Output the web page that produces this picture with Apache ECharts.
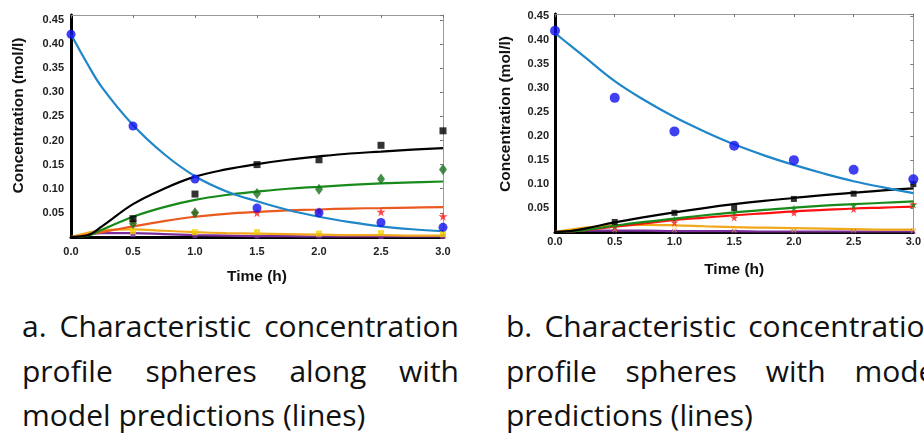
<!DOCTYPE html>
<html>
<head>
<meta charset="utf-8">
<script src="https://cdn.jsdelivr.net/npm/echarts@6/dist/echarts.min.js"></script>
<style>
html,body{margin:0;padding:0;background:#fff;overflow:hidden;width:924px;height:441px;}
#chart{position:absolute;left:0;top:0;width:924px;height:300px;}
.cap{position:absolute;width:437px;font-family:'Open Sans',sans-serif;font-size:30px;line-height:44.5px;color:#111;text-align:justify;white-space:normal;}
</style>
</head>
<body>
<div id="chart"></div>
<div class="cap" id="capA" style="left:22px;top:304px;"></div>
<div class="cap" id="capB" style="left:506px;top:304px;"></div>
<script>
// ---------- data ----------
const captionA = 'a. Characteristic concentration profile spheres along with model predictions (lines)';
const captionB = 'b. Characteristic concentration profile spheres with model predictions (lines)';
const xName = 'Time (h)';
const yName = 'Concentration (mol/l)';

const tPts  = [0, 0.5, 1.0, 1.5, 2.0, 2.5, 3.0];
const tLine = [0, 0.125, 0.25, 0.5, 0.75, 1.0, 1.25, 1.5, 1.75, 2.0, 2.25, 2.5, 2.75, 3.0];

// chart a – measured points
const blueA_pts   = [0.42, 0.23, 0.12, 0.06, 0.05, 0.03, 0.02];
const blackA_pts  = [null, 0.038, 0.089, 0.15, 0.16, 0.19, 0.22];
const greenA_pts  = [null, 0.028, 0.05, 0.09, 0.099, 0.12, 0.14];
const redA_pts    = [null, 0.032, 0.05, 0.05, 0.053, 0.052, 0.043];
const yellowA_pts = [null, 0.012, 0.01, 0.01, 0.007, 0.008, 0.006];
const purpleA_pts = [null, 0.005, 0.003, 0.002, 0.002, 0.001, 0.001];
// chart a – model lines
const blueA_line   = [0.42, 0.362, 0.31, 0.232, 0.172, 0.126, 0.095, 0.074, 0.056, 0.042, 0.031, 0.022, 0.016, 0.012];
const blackA_line  = [0, 0.003, 0.022, 0.068, 0.1, 0.125, 0.14, 0.151, 0.16, 0.167, 0.173, 0.177, 0.181, 0.184];
const greenA_line  = [0, 0.002, 0.015, 0.042, 0.062, 0.077, 0.087, 0.094, 0.1, 0.104, 0.108, 0.111, 0.113, 0.115];
const orangeA_line = [0, 0.004, 0.01, 0.022, 0.033, 0.042, 0.048, 0.052, 0.055, 0.057, 0.059, 0.06, 0.061, 0.062];
const yellowA_line = [0, 0.008, 0.014, 0.016, 0.013, 0.01, 0.008, 0.007, 0.006, 0.005, 0.004, 0.004, 0.003, 0.003];
const purpleA_line = [0, 0.005, 0.008, 0.008, 0.006, 0.004, 0.003, 0.002, 0.002, 0.001, 0.001, 0.001, 0.001, 0.001];

// chart b – measured points
const blueB_pts   = [0.42, 0.28, 0.21, 0.18, 0.15, 0.13, 0.11];
const blackB_pts  = [null, 0.021, 0.04, 0.05, 0.069, 0.08, 0.1];
const greenB_pts  = [null, 0.012, 0.027, 0.04, 0.05, 0.055, 0.057];
const redB_pts    = [null, 0.01, 0.02, 0.03, 0.04, 0.048, 0.058];
const yellowB_pts = [null, 0.005, 0.005, 0.004, 0.004, 0.004, 0.004];
const purpleB_pts = [null, 0.001, 0.001, 0.001, 0.001, 0.001, 0.001];
// chart b – model lines
const blueB_line   = [0.415, 0.39, 0.365, 0.315, 0.275, 0.24, 0.21, 0.183, 0.16, 0.14, 0.122, 0.106, 0.093, 0.081];
const blackB_line  = [0, 0.002, 0.007, 0.02, 0.031, 0.041, 0.05, 0.058, 0.065, 0.071, 0.077, 0.082, 0.087, 0.091];
const greenB_line  = [0, 0.001, 0.004, 0.013, 0.021, 0.028, 0.035, 0.041, 0.046, 0.051, 0.055, 0.058, 0.061, 0.064];
const redB_line    = [0, 0.001, 0.004, 0.011, 0.018, 0.025, 0.03, 0.035, 0.039, 0.043, 0.046, 0.049, 0.051, 0.053];
const orangeB_line = [0, 0.005, 0.009, 0.014, 0.015, 0.014, 0.012, 0.01, 0.009, 0.008, 0.007, 0.006, 0.005, 0.005];
const purpleB_line = [0, 0.002, 0.003, 0.003, 0.003, 0.002, 0.002, 0.002, 0.001, 0.001, 0.001, 0.001, 0.001, 0.001];

// ---------- build ----------
document.getElementById('capA').textContent = captionA;
document.getElementById('capB').textContent = captionB;

const STAR = 'path://M50,0 L61,35 L98,35 L68,57 L79,91 L50,70 L21,91 L32,57 L2,35 L39,35 Z';
const CROSS = 'path://M0,10 L10,0 L50,40 L90,0 L100,10 L60,50 L100,90 L90,100 L50,60 L10,100 L0,90 L40,50 Z';

function pairs(xs, ys) { return xs.map((x, i) => [x, ys[i]]).filter(p => p[1] !== null); }
function lineS(idx, ys, color, w) {
  return { type: 'line', xAxisIndex: idx * 2, yAxisIndex: idx * 2, data: pairs(tLine, ys),
    smooth: 0.4, showSymbol: false, symbol: 'none', clip: false, silent: true,
    lineStyle: { color: color, width: w || 2.2 }, z: 3 };
}
function ptS(idx, ys, color, symbol, size) {
  return { type: 'scatter', xAxisIndex: idx * 2, yAxisIndex: idx * 2, data: pairs(tPts, ys),
    symbol: symbol, symbolSize: size, clip: false, silent: true,
    itemStyle: { color: color }, z: 4 };
}

const labelFont = { fontFamily: 'Liberation Sans', fontWeight: 'bold', fontSize: 11, color: '#222' };
const nameFont = { fontFamily: 'Liberation Sans', fontWeight: 'bold', fontSize: 15.5, color: '#111' };

function axesFor(g, yMax, xLabMargin, yLabMargin, yGap, yPad, xGap) {
  return {
    x: [
      { type: 'value', gridIndex: g, min: 0, max: 3, interval: 0.5, position: 'bottom',
        name: xName, nameLocation: 'middle', nameGap: xGap, nameTextStyle: nameFont,
        axisLine: { show: true, onZero: false, lineStyle: { color: '#000', width: 3 } },
        axisTick: { show: false }, splitLine: { show: false },
        axisLabel: Object.assign({ margin: xLabMargin, formatter: v => v.toFixed(1) }, labelFont) },
      { type: 'value', gridIndex: g, min: 0, max: 3, interval: 0.5, position: 'top',
        axisLine: { show: true, onZero: false, lineStyle: { color: '#9a9a9a', width: 1 } },
        axisTick: { show: true, inside: true, length: 3, lineStyle: { color: '#777' } },
        axisLabel: { show: false }, splitLine: { show: false } }
    ],
    y: [
      { type: 'value', gridIndex: g, min: 0, max: yMax, interval: 0.05, position: 'left',
        name: yName, nameLocation: 'middle', nameGap: yGap, nameRotate: 90,
        nameTextStyle: Object.assign({ padding: [0, 0, 0, yPad] }, nameFont),
        axisLine: { show: true, onZero: false, lineStyle: { color: '#000', width: 3 } },
        axisTick: { show: false }, splitLine: { show: false },
        axisLabel: Object.assign({ margin: yLabMargin, showMinLabel: false, showMaxLabel: false,
          formatter: v => v.toFixed(2) }, labelFont) },
      { type: 'value', gridIndex: g, min: 0, max: yMax, interval: 0.05, position: 'right',
        axisLine: { show: true, onZero: false, lineStyle: { color: '#9a9a9a', width: 1 } },
        axisTick: { show: true, inside: true, length: 3, lineStyle: { color: '#777' } },
        axisLabel: { show: false }, splitLine: { show: false } }
    ]
  };
}

const axA = axesFor(0, 0.46, 9, 7, 44, 21, 32);
const axB = axesFor(1, 0.455, 4, 6, 41, 18, 30);

const option = {
  animation: false,
  backgroundColor: '#fff',
  grid: [
    { left: 71, top: 15, width: 372, height: 222 },
    { left: 555, top: 14, width: 365, height: 218 }
  ],
  xAxis: [axA.x[0], axA.x[1], axB.x[0], axB.x[1]],
  yAxis: [axA.y[0], axA.y[1], axB.y[0], axB.y[1]],
  series: [
    // chart a
    lineS(0, purpleA_line, '#7b2d9b'),
    lineS(0, yellowA_line, '#f2a81d'),
    lineS(0, orangeA_line, '#ea5a1f'),
    lineS(0, greenA_line, '#178a1a'),
    lineS(0, blackA_line, '#000000'),
    lineS(0, blueA_line, '#1f86c9'),
    ptS(0, purpleA_pts, '#7b2d9b', 'rect', 5),
    ptS(0, yellowA_pts, '#f5d000', 'rect', 6),
    ptS(0, redA_pts, '#ff1a1a', STAR, 9),
    ptS(0, greenA_pts, '#16701a', 'diamond', [8, 11]),
    ptS(0, blackA_pts, '#000000', 'rect', 7),
    ptS(0, blueA_pts, '#1010f0', 'circle', 9),
    // chart b
    lineS(1, purpleB_line, '#7b2d9b'),
    lineS(1, orangeB_line, '#f2a81d'),
    lineS(1, redB_line, '#ff1010'),
    lineS(1, greenB_line, '#178a1a'),
    lineS(1, blackB_line, '#000000'),
    lineS(1, blueB_line, '#1f86c9'),
    ptS(1, purpleB_pts, '#7b2d9b', CROSS, 5),
    ptS(1, yellowB_pts, '#f5c030', CROSS, 5),
    ptS(1, redB_pts, '#ff1a1a', STAR, 8),
    ptS(1, greenB_pts, '#178a1a', STAR, 7),
    ptS(1, blackB_pts, '#000000', 'rect', 6),
    ptS(1, blueB_pts, '#1010f0', 'circle', 10)
  ]
};

const chart = echarts.init(document.getElementById('chart'), null, { renderer: 'canvas' });
chart.setOption(option);
</script>
</body>
</html>
